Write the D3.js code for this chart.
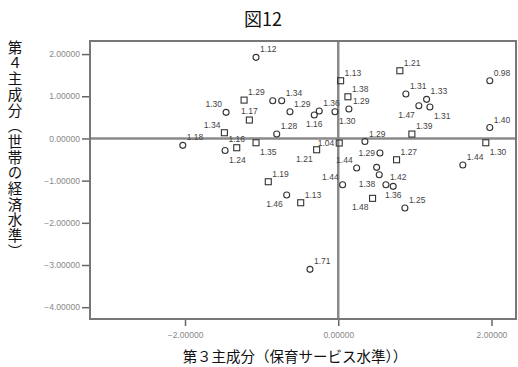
<!DOCTYPE html>
<html>
<head>
<meta charset="utf-8">
<script src="https://cdn.jsdelivr.net/npm/d3@7/dist/d3.min.js"></script>
<style>
  html, body { margin: 0; padding: 0; background: #fff; }
  svg { display: block; }
</style>
</head>
<body>
<div id="chart"></div>
<script>
// Principal component scores: component 3 (x) vs component 4 (y)
const caseLabels = ["1.12","1.13","1.21","0.98","1.38","1.29","1.31","1.33","1.47","1.31",
  "1.39","1.40","1.44","1.30","1.27","1.29","","1.38","1.42","1.36",
  "1.48","1.25","1.44","1.44","1.29","1.04","1.21","1.35","1.19","1.13",
  "1.46","1.71","1.30","1.29","1.17","1.34","1.18","1.16","1.24","1.28",
  "","1.34","1.29","1.16","1.36","1.30"];
const comp3 = [-1.073, 0.031, 0.804, 1.978, 0.126, 0.139, 0.883, 1.153, 1.052, 1.196,
  0.961, 1.978, 1.626, 1.926, 0.761, 0.544, 0.501, 0.535, 0.622, 0.717,
  0.448, 0.870, 0.240, 0.057, 0.348, 0.013, -0.282, -1.073, -0.913, -0.490,
  -0.673, -0.369, -1.464, -1.229, -1.160, -1.486, -2.029, -1.325, -1.477, -0.803,
  -0.855, -0.738, -0.630, -0.313, -0.248, -0.043];
const comp4 = [1.922, 1.368, 1.605, 1.368, 0.988, 0.697, 1.053, 0.927, 0.775, 0.744,
  0.104, 0.258, -0.630, -0.102, -0.505, -0.346, -0.685, -0.860, -1.097, -1.135,
  -1.420, -1.650, -0.702, -1.097, -0.073, -0.109, -0.268, -0.102, -1.026, -1.524,
  -1.341, -3.103, 0.619, 0.909, 0.436, 0.135, -0.164, -0.220, -0.287, 0.104,
  0.894, 0.894, 0.633, 0.555, 0.649, 0.633];
// marker type per case: "c" = circle, "s" = square
const markerType = ["c","s","s","c","s","c","c","c","c","c",
  "s","c","c","s","s","c","c","c","c","c",
  "s","c","c","c","c","s","s","s","s","s",
  "c","c","c","s","s","s","c","s","c","c",
  "c","c","c","c","c","c"];
// which side of the marker its case label sits on
const labelSide = ["ur","ur","ur","ur","ur","ur","ur","ur","dl","dr",
  "ur","ur","ur","dr","ur","l","ur","dl","ur","d",
  "dl","ur","ul","ul","ur","l","dl","dr","ur","ur",
  "dl","ur","ul","ur","u","ul","ur","u","dr","ur",
  "ur","ur","ur","d","ur","dr"];

const xTicks = [-2, 0, 2];
const yTicks = [2, 1, 0, -1, -2, -3, -4];
const xDomain = [-3.24, 2.32];
const yDomain = [-4.28, 2.31];

const chartTitle = "図12";
const xTitle = "第３主成分（保育サービス水準））";
const yTitle = "第４主成分（世帯の経済水準）";

const W = 518, H = 367;
const plot = { left: 90, right: 516, top: 41, bottom: 319 };

const svg = d3.select("#chart").append("svg")
  .attr("width", W).attr("height", H);

const x = d3.scaleLinear().domain(xDomain).range([plot.left, plot.right]);
const y = d3.scaleLinear().domain(yDomain).range([plot.bottom, plot.top]);

const fmt = d3.format(".5f");

// title
svg.append("text")
  .attr("x", 263).attr("y", 26)
  .attr("text-anchor", "middle")
  .style("font-family", "'Noto Sans CJK JP', sans-serif")
  .style("font-size", "18px")
  .attr("fill", "#111")
  .text(chartTitle);

// axes
const xAxis = d3.axisBottom(x).tickValues(xTicks).tickFormat(fmt).tickSize(7).tickPadding(6);
const yAxis = d3.axisLeft(y).tickValues(yTicks).tickFormat(fmt).tickSize(8).tickPadding(2);

const gx = svg.append("g").attr("transform", `translate(0,${plot.bottom})`).call(xAxis);
const gy = svg.append("g").attr("transform", `translate(${plot.left},0)`).call(yAxis);
[gx, gy].forEach(g => {
  g.select(".domain").remove();
  g.selectAll(".tick line").attr("stroke", "#666").attr("stroke-width", 1.5);
  g.selectAll(".tick text")
    .attr("fill", "#888")
    .style("font-family", "'Liberation Sans', Arial, sans-serif")
    .style("font-size", "8.5px");
});

// zero reference lines
svg.append("line")
  .attr("x1", plot.left).attr("x2", plot.right)
  .attr("y1", y(0)).attr("y2", y(0))
  .attr("stroke", "#8a8a8a").attr("stroke-width", 2.5);
svg.append("line")
  .attr("x1", x(0)).attr("x2", x(0))
  .attr("y1", plot.top).attr("y2", plot.bottom)
  .attr("stroke", "#8a8a8a").attr("stroke-width", 2.5);

// plot frame
svg.append("rect")
  .attr("x", plot.left).attr("y", plot.top)
  .attr("width", plot.right - plot.left).attr("height", plot.bottom - plot.top)
  .attr("fill", "none").attr("stroke", "#777").attr("stroke-width", 2);

// markers
const cases = caseLabels.map((lab, i) => ({
  lab, cx: comp3[i], cy: comp4[i], type: markerType[i], side: labelSide[i]
}));

const g = svg.append("g");
g.selectAll("circle.pt").data(cases.filter(d => d.type === "c"))
  .join("circle").attr("class", "pt")
  .attr("cx", d => x(d.cx)).attr("cy", d => y(d.cy))
  .attr("r", 3)
  .attr("fill", "none").attr("stroke", "#333").attr("stroke-width", 1.1);
g.selectAll("rect.pt").data(cases.filter(d => d.type === "s"))
  .join("rect").attr("class", "pt")
  .attr("x", d => x(d.cx) - 3).attr("y", d => y(d.cy) - 3)
  .attr("width", 6).attr("height", 6)
  .attr("fill", "none").attr("stroke", "#333").attr("stroke-width", 1.1);

// case labels
const place = {
  ur: [4, -5, "start"], ul: [-4, -5, "end"], u: [0, -6, "middle"],
  d: [0, 12, "middle"], dl: [-4, 12, "end"], dr: [4, 12, "start"],
  l: [-5, 3, "end"], r: [5, 3, "start"]
};
g.selectAll("text.lab").data(cases.filter(d => d.lab))
  .join("text").attr("class", "lab")
  .attr("x", d => x(d.cx) + place[d.side][0])
  .attr("y", d => y(d.cy) + place[d.side][1])
  .attr("text-anchor", d => place[d.side][2])
  .attr("fill", "#444")
  .style("font-family", "'Liberation Sans', Arial, sans-serif")
  .style("font-size", "8.5px")
  .text(d => d.lab);

// axis titles
svg.append("text")
  .attr("x", 295).attr("y", 362)
  .attr("text-anchor", "middle")
  .style("font-family", "'Noto Sans CJK JP', sans-serif")
  .style("font-size", "14.5px")
  .attr("fill", "#111")
  .text(xTitle);

svg.append("text")
  .attr("x", 15).attr("y", 40)
  .style("writing-mode", "vertical-rl")
  .style("text-orientation", "upright")
  .style("font-family", "'Noto Sans CJK JP', sans-serif")
  .style("font-size", "14.5px")
  .style("letter-spacing", "1.2px")
  .attr("fill", "#111")
  .text(yTitle);
</script>
</body>
</html>
